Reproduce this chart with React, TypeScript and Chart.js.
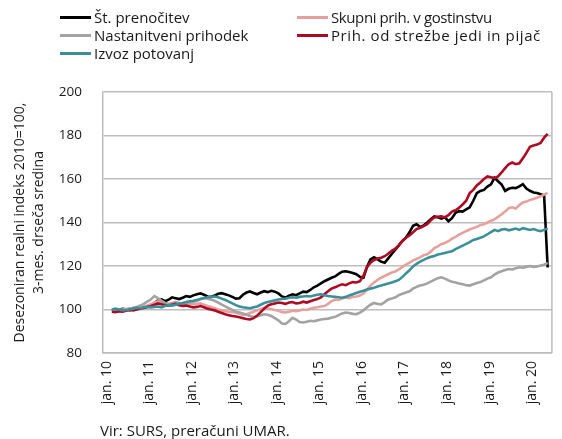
import React, { useEffect, useRef } from "react";
import { Chart, registerables } from "chart.js";

Chart.register(...registerables);

// ---- Data (monthly, Jan 2010 – Apr 2020) ----
const START_YEAR = 2010;
const N_MONTHS = 124;
const months: string[] = Array.from({ length: N_MONTHS }, (_, i) =>
  `${START_YEAR + Math.floor(i / 12)}-${String((i % 12) + 1).padStart(2, "0")}`
);

const tickMonths = [0, 12, 24, 36, 48, 60, 72, 84, 96, 108, 120];
const tickLabels = ["jan. 10", "jan. 11", "jan. 12", "jan. 13", "jan. 14", "jan. 15", "jan. 16", "jan. 17", "jan. 18", "jan. 19", "jan. 20"];
const yTicks = [80, 100, 120, 140, 160, 180, 200];

const stPrenocitev = [
  100.0, 99.6, 99.8, 100.3, 100.1, 99.7, 100.2, 100.6, 101.0, 100.7, 101.2, 101.8,
  103.0, 104.2, 104.6, 103.8, 104.5, 105.6, 105.2, 104.8, 105.4, 106.2, 105.8, 106.5,
  107.0, 107.4, 106.8, 106.0, 105.8, 106.4, 107.2, 107.5, 107.0, 106.5, 105.8, 105.0,
  105.2, 106.8, 107.8, 108.3, 107.6, 107.0, 107.8, 108.4, 108.0, 108.6, 108.2, 107.4,
  106.0, 105.5, 106.4, 107.0, 106.6, 107.4, 108.2, 108.0, 109.0, 110.2, 111.0, 112.0,
  113.0, 113.8, 114.6, 115.2, 116.4, 117.4, 117.6, 117.2, 116.8, 116.2, 115.0, 114.6,
  119.5, 123.0, 124.0, 123.0, 122.0, 121.5, 123.5, 125.5, 127.5, 129.5, 131.5, 133.0,
  135.5, 138.5, 139.2, 138.0, 138.6, 140.0, 141.5, 142.8, 142.4, 141.8, 142.4, 140.6,
  142.0, 144.5, 145.2, 145.0, 146.0, 147.0, 150.0, 153.5, 154.5, 155.0, 156.5, 157.5,
  160.5, 159.0, 157.5, 154.5, 155.5, 156.0, 155.8, 156.6, 157.6, 155.6, 154.6, 153.8,
  153.6, 153.0, 152.4, 119.3,
];

const skupniPrih = [
  99.6, 99.4, 99.8, 100.0, 100.2, 100.4, 100.2, 100.6, 101.0, 101.4, 101.8, 102.4,
  103.2, 103.8, 103.4, 102.8, 102.6, 103.0, 103.4, 102.8, 102.4, 102.6, 102.8, 102.6,
  102.6, 102.8, 102.2, 101.6, 101.2, 100.6, 100.0, 99.6, 99.2, 99.0, 98.8, 98.6,
  98.0, 97.4, 97.8, 98.4, 99.0, 99.6, 100.2, 100.8, 100.6, 100.2, 99.8, 99.4,
  98.8, 98.6, 99.0, 99.4, 99.2, 99.6, 100.0, 99.8, 100.4, 100.8, 101.0, 101.4,
  101.6, 102.6, 103.8, 104.6, 104.4, 105.0, 105.6, 105.2, 105.8, 106.0, 106.4, 107.4,
  109.0, 111.0, 112.4, 113.6, 114.6, 115.4, 116.2, 117.0, 117.5, 118.4, 119.6, 120.6,
  121.6, 122.6, 123.2, 124.0, 125.0, 125.4, 126.6, 128.2, 129.0, 130.0, 130.6, 131.4,
  132.6, 133.4, 134.4, 135.2, 136.0, 136.8, 137.4, 138.0, 138.8, 139.2, 140.0, 140.8,
  141.4, 142.6, 143.8, 145.0, 146.6, 147.0, 146.4, 148.0, 149.2, 149.6, 150.4, 150.8,
  151.4, 152.0, 152.8, 153.6,
];

const nastanitveniPrihodek = [
  100.0, 99.4, 99.0, 99.2, 99.8, 100.4, 100.8, 101.2, 101.8, 102.6, 103.6, 104.6,
  106.2, 105.2, 104.0, 103.0, 102.4, 102.8, 103.4, 103.0, 102.6, 102.8, 103.2, 103.6,
  104.0, 104.8, 105.4, 105.0, 104.6, 104.0, 103.2, 102.2, 101.4, 100.6, 99.8, 99.0,
  98.6, 98.2, 97.6, 97.0, 96.6, 96.8, 97.4, 97.8, 97.6, 97.0, 96.0, 95.0,
  93.6, 93.4, 94.6, 96.2, 95.4, 94.2, 94.0, 94.4, 94.8, 94.6, 95.0, 95.4,
  95.6, 95.8, 96.2, 96.6, 97.4, 98.2, 98.6, 98.4, 98.0, 97.8, 98.6, 99.6,
  101.0, 102.2, 103.0, 102.6, 102.4, 103.4, 104.6, 105.0, 105.6, 106.6, 107.2, 107.8,
  108.4, 109.6, 110.4, 111.0, 111.4, 112.0, 112.8, 113.6, 114.4, 114.8, 114.2, 113.4,
  112.8, 112.4, 112.0, 111.6, 111.2, 111.0, 111.6, 112.2, 112.6, 113.4, 114.2, 114.8,
  116.0, 117.0, 117.6, 118.2, 118.6, 118.4, 119.0, 119.4, 119.2, 119.6, 120.0, 119.6,
  119.8, 120.2, 120.6, 121.4,
];

const strezbaJediPijac = [
  99.0, 98.8, 99.2, 99.0, 99.4, 99.8, 99.6, 100.0, 100.4, 100.8, 101.2, 101.6,
  102.2, 102.8, 102.4, 102.0, 101.8, 102.2, 102.6, 102.0, 101.6, 101.8, 101.4, 101.0,
  101.2, 101.6, 101.0, 100.4, 100.0, 99.6, 99.0, 98.4, 97.8, 97.4, 97.0, 96.8,
  96.4, 96.0, 95.6, 95.4, 96.0, 97.2, 98.8, 100.4, 101.8, 102.4, 102.8, 103.2,
  103.0, 102.6, 103.2, 103.4, 102.8, 103.0, 103.6, 103.2, 103.8, 104.4, 104.8, 105.6,
  107.0, 108.4, 109.6, 110.2, 111.0, 111.6, 111.2, 112.0, 112.6, 112.4, 113.0, 115.5,
  119.5, 121.5, 122.8, 123.4, 123.8, 124.5, 125.6, 127.0, 128.0, 129.6, 131.5, 133.0,
  134.0, 135.5, 137.0, 137.6, 138.4, 139.2, 141.0, 142.3, 142.6, 142.8, 142.4, 143.4,
  145.0, 145.6, 146.8, 148.3, 150.0, 153.5, 155.0, 157.0, 158.4, 160.0, 161.2, 160.8,
  160.4, 161.2, 163.0, 165.0, 166.8, 167.6, 166.8, 167.2, 169.5, 172.0, 174.8, 175.4,
  175.8, 176.6, 179.0, 180.8,
];

const izvozPotovanj = [
  100.0, 100.4, 100.0, 99.6, 99.8, 100.0, 100.4, 100.8, 100.6, 101.0, 101.2, 101.0,
  101.2, 101.4, 101.0, 101.6, 102.0, 101.8, 102.2, 102.6, 103.0, 103.4, 103.8, 104.0,
  104.4, 104.8, 105.2, 105.6, 105.8, 106.0, 105.6, 105.0, 104.4, 103.6, 102.8, 102.0,
  101.4, 101.0, 100.8, 100.6, 101.0, 101.4, 102.2, 103.0, 103.4, 103.8, 104.2, 104.6,
  104.8, 105.0, 105.4, 105.6, 105.4, 105.8, 106.0, 106.2, 106.0, 106.4, 106.8, 107.0,
  106.6, 106.2, 106.0, 105.8, 105.6, 105.4, 105.8, 106.4, 107.0, 107.6, 108.2, 108.6,
  109.2, 109.6, 110.0, 110.6, 111.0, 111.5, 112.0, 112.4, 113.0, 113.6, 115.0, 116.6,
  118.0, 119.8, 121.0, 122.0, 122.8, 123.6, 124.2, 124.6, 125.3, 125.6, 126.0, 126.4,
  126.8, 127.8, 128.6, 129.4, 130.2, 131.0, 132.0, 132.4, 133.0, 133.6, 134.6, 135.6,
  136.6, 136.0, 136.8, 137.0, 136.4, 136.8, 137.2, 136.6, 137.4, 137.0, 136.6, 137.0,
  136.4, 136.0, 136.6, 137.2,
];

const seriesNames = [
  "Št. prenočitev",
  "Skupni prih. v gostinstvu",
  "Nastanitveni prihodek",
  "Prih. od strežbe jedi in pijač",
  "Izvoz potovanj",
];

const yTitle = ["Desezoniran realni indeks 2010=100,", "3-mes. drseča sredina"];
const sourceNote = "Vir: SURS, preračuni UMAR.";

// ---- Styles ----
const FONT = "'Open Sans', 'Noto Sans', sans-serif";
const TEXT = "#1a1a1a";
const GRID = "#bdbdbd";
const COLORS = ["#000000", "#e6a19d", "#a3a3a3", "#ad0a24", "#3b8f99"];
const ORDER = [5, 4, 3, 2, 1]; // later Excel series drawn on top

const legendLayout = [
  { left: 60, top: 17, ls: 0 },
  { left: 297, top: 17, ls: -0.4 },
  { left: 60, top: 35, ls: 0 },
  { left: 297, top: 35, ls: 0.6 },
  { left: 60, top: 53, ls: 0 },
];

export default function App() {
  const canvasRef = useRef<HTMLCanvasElement | null>(null);

  useEffect(() => {
    const canvas = canvasRef.current;
    if (!canvas) return;
    const allSeries = [stPrenocitev, skupniPrih, nastanitveniPrihodek, strezbaJediPijac, izvozPotovanj];
    const toPoints = (vals: number[]) => vals.map((v, i) => ({ x: i, y: v, m: months[i] }));

    const framePlugin = {
      id: "frameRight",
      beforeDatasetsDraw(chart: any) {
        const { ctx, chartArea: a } = chart;
        ctx.save();
        ctx.strokeStyle = GRID;
        ctx.lineWidth = 1.5;
        ctx.beginPath();
        ctx.moveTo(a.right, a.top);
        ctx.lineTo(a.right, a.bottom);
        ctx.stroke();
        ctx.restore();
      },
    };

    const chart = new Chart(canvas, {
      type: "line",
      data: {
        datasets: allSeries.map((vals, k) => ({
          label: seriesNames[k],
          data: toPoints(vals),
          borderColor: COLORS[k],
          backgroundColor: COLORS[k],
          borderWidth: 2.6,
          pointRadius: 0,
          tension: 0,
          fill: false,
          order: ORDER[k],
        })),
      },
      options: {
        animation: false,
        responsive: false,
        devicePixelRatio: 1,
        layout: { padding: { top: 92, right: 5, left: 0, bottom: 0 } },
        plugins: { legend: { display: false }, tooltip: { enabled: false } },
        scales: {
          x: {
            type: "linear",
            min: -2.5,
            max: 124.2,
            grid: { display: false, drawTicks: false },
            border: { display: true, color: GRID, width: 1.5 },
            afterBuildTicks: (s: any) => {
              s.ticks = tickMonths.map((v) => ({ value: v }));
            },
            afterFit: (s: any) => {
              s.height = 86;
            },
            ticks: {
              autoSkip: false,
              minRotation: 90,
              maxRotation: 90,
              padding: 8,
              labelOffset: -5,
              color: TEXT,
              font: { family: FONT, size: 14 },
              callback: (v: any) => {
                const idx = tickMonths.indexOf(Number(v));
                return idx >= 0 ? tickLabels[idx] : "";
              },
            },
          },
          y: {
            min: 80,
            max: 200,
            afterBuildTicks: (s: any) => {
              s.ticks = yTicks.map((v) => ({ value: v }));
            },
            afterFit: (s: any) => {
              s.width = 103;
            },
            grid: { color: GRID, lineWidth: 1.5, drawTicks: false },
            border: { display: true, color: GRID, width: 1.5 },
            ticks: {
              padding: 21,
              color: TEXT,
              font: { family: FONT, size: 13.5 },
            },
            title: {
              display: true,
              text: yTitle,
              color: TEXT,
              font: { family: FONT, size: 14, lineHeight: 1.4 },
              padding: { top: 10, bottom: 0 },
            },
          },
        },
      },
      plugins: [framePlugin],
    } as any);

    return () => chart.destroy();
  }, []);

  return (
    <div
      style={{
        position: "absolute",
        left: 0,
        top: 0,
        width: 562,
        height: 439,
        background: "#fff",
        fontFamily: FONT,
        color: TEXT,
        overflow: "hidden",
      }}
    >
      <canvas ref={canvasRef} width={562} height={439} style={{ position: "absolute", left: 0, top: 0 }} />
      {seriesNames.map((name, k) => (
        <div
          key={name}
          style={{
            position: "absolute",
            left: legendLayout[k].left,
            top: legendLayout[k].top - 9,
            height: 18,
            display: "flex",
            alignItems: "center",
            whiteSpace: "nowrap",
            fontSize: 15,
            lineHeight: "18px",
            letterSpacing: legendLayout[k].ls,
          }}
        >
          <span style={{ display: "inline-block", width: 31, height: 3, background: COLORS[k], marginRight: 3 }} />
          <span>{name}</span>
        </div>
      ))}
      <div
        style={{
          position: "absolute",
          left: 100,
          top: 421,
          fontSize: 15,
          lineHeight: "18px",
          whiteSpace: "nowrap",
        }}
      >
        {sourceNote}
      </div>
    </div>
  );
}
